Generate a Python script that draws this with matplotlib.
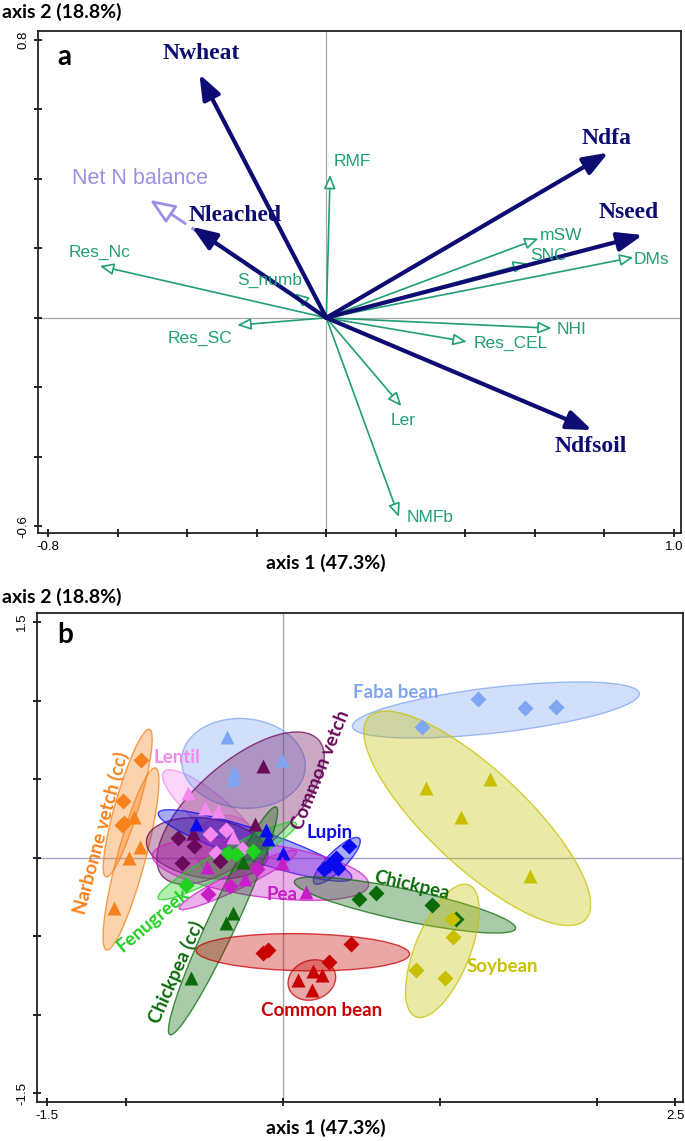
import matplotlib
matplotlib.use("Agg")
import matplotlib.pyplot as plt
from matplotlib.patches import Ellipse

# ---------------- panel a: correlation circle (arrow tips) ----------------
main_vars = ["Nwheat", "Nleached", "Ndfa", "Nseed", "Ndfsoil"]
main_x = [-0.365, -0.387, 0.811, 0.910, 0.764]
main_y = [0.701, 0.262, 0.475, 0.238, -0.323]

sub_vars = ["RMF", "Res_Nc", "S_numb", "Res_SC", "mSW", "SNC", "DMs", "NHI", "Res_CEL", "Ler", "NMFb"]
sub_x = [0.011, -0.651, -0.090, -0.256, 0.610, 0.577, 0.883, 0.648, 0.404, 0.216, 0.209]
sub_y = [0.411, 0.149, 0.070, -0.021, 0.228, 0.157, 0.174, -0.030, -0.069, -0.254, -0.573]

supp_var = "Net N balance"
supp_x, supp_y = -0.507, 0.339

# ---------------- panel b: individual scores ----------------
species = ["Narbonne vetch (cc)", "Lentil", "Faba bean", "Common vetch", "Lupin", "Pea",
           "Fenugreek", "Chickpea (cc)", "Chickpea", "Soybean", "Common bean"]

triangles = {
    "Narbonne vetch (cc)": ([-0.944, -0.908, -0.976, -1.073], [0.261, 0.070, 0.000, -0.322]),
    "Lentil": ([-0.601, -0.495, -0.411, -0.316], [0.410, 0.315, 0.299, 0.134]),
    "Faba bean": ([-0.351, -0.309, -0.316, -0.002], [0.771, 0.548, 0.499, 0.622]),
    "Common vetch": ([-0.125, -0.178, -0.570], [0.584, 0.213, 0.159]),
    "Lupin": ([-0.552, -0.108, -0.093, 0.002], [0.213, 0.176, 0.119, 0.032]),
    "Pea": ([-0.484, -0.241, -0.002, 0.150], [-0.061, -0.138, -0.032, -0.217]),
    "Chickpea (cc)": ([-0.252, -0.316, -0.362, -0.586], [-0.025, -0.354, -0.414, -0.768]),
    "Soybean": ([0.912, 1.319, 1.137, 1.579], [0.442, 0.499, 0.261, -0.117]),
    "Common bean": ([0.097, 0.197, 0.252, 0.189], [-0.779, -0.722, -0.747, -0.843]),
}
diamonds = {
    "Narbonne vetch (cc)": ([-0.902, -1.018, -1.024, -1.008], [0.622, 0.363, 0.208, 0.219]),
    "Lentil": ([-0.357, -0.459, -0.425, -0.256], [0.176, 0.151, 0.032, 0.054]),
    "Faba bean": ([1.246, 1.547, 1.744, 0.887], [1.009, 0.951, 0.962, 0.834]),
    "Common vetch": ([-0.665, -0.565, -0.643, -0.400], [0.124, 0.075, -0.032, -0.019]),
    "Lupin": ([0.425, 0.341, 0.294, 0.351, 0.267], [0.075, -0.004, -0.046, -0.068, -0.074]),
    "Pea": ([-0.161, -0.337, -0.474], [-0.074, -0.180, -0.231]),
    "Fenugreek": ([-0.347, -0.294, -0.189, -0.616], [0.032, 0.024, 0.045, -0.174]),
    "Chickpea": ([0.595, 0.485, 0.950, 1.103], [-0.227, -0.265, -0.301, -0.392]),
    "Soybean": ([1.077, 1.086, 0.853, 1.035], [-0.392, -0.503, -0.715, -0.768]),
    "Common bean": ([-0.125, -0.093, 0.436, 0.298], [-0.609, -0.588, -0.552, -0.662]),
}
# (centre x, centre y, width, height, angle)
ellipses_tri = {
    "Narbonne vetch (cc)": (-0.965, -0.008, 1.20, 0.18, 75),
    "Lentil": (-0.45, 0.29, 0.80, 0.22, -40),
    "Faba bean": (-0.249, 0.601, 0.79, 0.57, -5),
    "Common vetch": (-0.267, 0.316, 1.32, 0.58, 41),
    "Lupin": (-0.175, 0.078, 1.30, 0.20, -18.6),
    "Pea": (-0.14, -0.078, 1.39, 0.34, -8),
    "Chickpea (cc)": (-0.379, -0.402, 1.60, 0.18, 65),
    "Soybean": (1.24, 0.251, 1.89, 0.62, -43),
    "Common bean": (0.187, -0.779, 0.31, 0.25, 20),
}
ellipses_dia = {
    "Narbonne vetch (cc)": (-0.986, 0.348, 0.98, 0.15, 73.6),
    "Lentil": (-0.357, 0.07, 0.40, 0.40, 0),
    "Faba bean": (1.359, 0.941, 1.84, 0.29, 6.6),
    "Common vetch": (-0.48, 0.06, 0.78, 0.38, -8),
    "Lupin": (0.346, -0.02, 0.405, 0.12, 45),
    "Pea": (-0.284, -0.142, 0.83, 0.11, 26),
    "Fenugreek": (-0.352, -0.02, 1.00, 0.15, 28.5),
    "Chickpea": (0.78, -0.301, 1.44, 0.20, -12),
    "Soybean": (1.018, -0.593, 0.905, 0.35, 68),
    "Common bean": (0.129, -0.602, 1.36, 0.236, -1),
}

colors = {
    "Narbonne vetch (cc)": "#f7821b", "Lentil": "#f48af0", "Faba bean": "#7ea6f2",
    "Common vetch": "#6a0a5a", "Lupin": "#0a0aee", "Pea": "#c81ec8",
    "Fenugreek": "#1ed21e", "Chickpea (cc)": "#0b6b0b", "Chickpea": "#0b6b0b",
    "Soybean": "#c8c000", "Common bean": "#c80000",
}
# label placement (x, y, rotation)
label_pos = {
    "Narbonne vetch (cc)": (-1.157, 0.16, 75), "Lentil": (-0.675, 0.637, 0),
    "Faba bean": (0.722, 1.051, 0), "Common vetch": (0.246, 0.559, 68),
    "Lupin": (0.298, 0.159, 0), "Pea": (-0.002, -0.231, 0),
    "Fenugreek": (-0.825, -0.397, 40), "Chickpea (cc)": (-0.679, -0.731, 66),
    "Chickpea": (0.822, -0.174, -13), "Soybean": (1.399, -0.694, 0),
    "Common bean": (0.246, -0.970, 0),
}

NAVY = "#0c0c72"
GREEN = "#1f9e78"
LILAC = "#9b8fe6"
W, H = 685, 1141

fig = plt.figure(figsize=(W / 100, H / 100), dpi=100)


def px_axes(left, top, right, bottom):
    return fig.add_axes([left / W, 1 - bottom / H, (right - left) / W, (bottom - top) / H])


def style_axes(ax):
    for s in ax.spines.values():
        s.set_linewidth(1.3)
        s.set_color("#222222")
    ax.tick_params(direction="inout", length=6, width=1.2, labelsize=9.5, pad=3)
    for lab in ax.get_xticklabels() + ax.get_yticklabels():
        lab.set_family("Liberation Sans")


# ---------------- panel a ----------------
ax = px_axes(38, 31, 681, 533)
ax.set_xlim(-0.829, 1.020)
ax.set_ylim(-0.619, 0.825)
ax.axhline(0, color="#a8a8a8", lw=0.9, zorder=0)
ax.axvline(0, color="#a8a8a8", lw=0.9, zorder=0)
xt = [-0.8, -0.6, -0.4, -0.2, 0.0, 0.2, 0.4, 0.6, 0.8, 1.0]
yt = [-0.6, -0.4, -0.2, 0.0, 0.2, 0.4, 0.6, 0.8]
ax.set_xticks(xt)
ax.set_xticklabels(["-0.8"] + [""] * 8 + ["1.0"])
ax.set_yticks(yt)
ax.set_yticklabels(["-0.6"] + [""] * 6 + ["0.8"], rotation=90, va="center")
style_axes(ax)

# supplementary variable: dashed shaft + open head
hb = 0.80
ax.plot([0, supp_x * hb], [0, supp_y * hb], ls=(0, (4, 3)), color=LILAC, lw=2.2, zorder=1)
ax.annotate("", xy=(supp_x, supp_y), xytext=(supp_x * hb, supp_y * hb),
            arrowprops=dict(arrowstyle="-|>,head_length=1.1,head_width=0.45", lw=2.0,
                            ec=LILAC, fc="white", mutation_scale=14, shrinkA=0, shrinkB=0),
            zorder=1)
ax.text(-0.536, 0.402, supp_var, color=LILAC, fontsize=15.5, family="Liberation Sans",
        ha="center", va="center")

for name, x, y in zip(sub_vars, sub_x, sub_y):
    ax.annotate("", xy=(x, y), xytext=(0, 0),
                arrowprops=dict(arrowstyle="-|>,head_length=0.75,head_width=0.32", lw=1.2,
                                ec=GREEN, fc="white", mutation_scale=11, shrinkA=0, shrinkB=0),
                zorder=2)

for name, x, y in zip(main_vars, main_x, main_y):
    ax.annotate("", xy=(x, y), xytext=(0, 0),
                arrowprops=dict(arrowstyle="-|>,head_length=1.0,head_width=0.38", lw=3.0,
                                ec=NAVY, fc=NAVY, mutation_scale=15, shrinkA=0, shrinkB=0),
                zorder=3)

main_lab = {"Nwheat": (-0.358, 0.761), "Nleached": (-0.263, 0.295), "Ndfa": (0.807, 0.516),
            "Nseed": (0.869, 0.302), "Ndfsoil": (0.762, -0.369)}
for name, (x, y) in main_lab.items():
    ax.text(x, y, name, color=NAVY, fontsize=17, fontweight="bold", family="Liberation Serif",
            ha="center", va="center", zorder=4)

sub_lab = {"RMF": (0.02, 0.451, "left"), "Res_Nc": (-0.651, 0.187, "center"),
           "S_numb": (-0.162, 0.108, "center"), "Res_SC": (-0.363, -0.059, "center"),
           "mSW": (0.615, 0.238, "left"), "SNC": (0.586, 0.180, "left"),
           "DMs": (0.885, 0.168, "left"), "NHI": (0.663, -0.033, "left"),
           "Res_CEL": (0.423, -0.074, "left"), "Ler": (0.220, -0.294, "center"),
           "NMFb": (0.232, -0.575, "left")}
for name, (x, y, ha) in sub_lab.items():
    ax.text(x, y, name, color=GREEN, fontsize=12.5, family="Liberation Sans",
            ha=ha, va="center", zorder=4)

ax.text(0.03, 0.948, "a", transform=ax.transAxes, fontsize=20, fontweight="bold",
        family="Lato", ha="left", va="center")

# ---------------- panel b ----------------
bx = px_axes(36.5, 613.3, 682.7, 1101.7)
bx.set_xlim(-1.567, 2.549)
bx.set_ylim(-1.554, 1.557)
bx.axhline(0, color="#a4a4c8", lw=1.0, zorder=0)
bx.axvline(0, color="#a8a8a8", lw=1.0, zorder=0)
bx.set_xticks([-1.5, -1, 0, 1, 2, 2.5])
bx.set_xticklabels(["-1.5", "", "", "", "", "2.5"])
bx.set_yticks([-1.5, -1, -0.5, 0, 0.5, 1, 1.5])
bx.set_yticklabels(["-1.5"] + [""] * 5 + ["1.5"], rotation=90, va="center")
style_axes(bx)

for sp in species:
    c = colors[sp]
    for ell in (ellipses_tri.get(sp), ellipses_dia.get(sp)):
        if ell is None:
            continue
        cx, cy, w, h, a = ell
        bx.add_patch(Ellipse((cx, cy), w, h, angle=a, facecolor=c, alpha=0.35,
                             edgecolor="none", zorder=1))
        bx.add_patch(Ellipse((cx, cy), w, h, angle=a, facecolor="none", edgecolor=c,
                             alpha=0.75, lw=1.0, zorder=1))

for sp in species:
    c = colors[sp]
    if sp in triangles:
        xs, ys = triangles[sp]
        bx.plot(xs, ys, ls="none", marker="^", ms=10, color=c, mec="none", zorder=3)
    if sp in diamonds:
        xs, ys = diamonds[sp]
        bx.plot(xs, ys, ls="none", marker="D", ms=8.5, color=c, mec="none", zorder=3)

for sp in species:
    x, y, rot = label_pos[sp]
    bx.text(x, y, sp, color=colors[sp], fontsize=13.5, fontweight="bold", family="Lato",
            rotation=rot, rotation_mode="anchor", ha="center", va="center", zorder=4)

bx.text(0.032, 0.956, "b", transform=bx.transAxes, fontsize=20, fontweight="bold",
        family="Lato", ha="left", va="center")

# ---------------- axis titles ----------------
for yy in (12, 597):
    fig.text(2 / W, 1 - yy / H, "axis 2 (18.8%)", fontsize=14, fontweight="bold",
             family="Lato", ha="left", va="center")
for yy in (563, 1128):
    fig.text(326 / W, 1 - yy / H, "axis 1 (47.3%)", fontsize=14, fontweight="bold",
             family="Lato", ha="center", va="center")

fig.savefig("out.png", dpi=100)
